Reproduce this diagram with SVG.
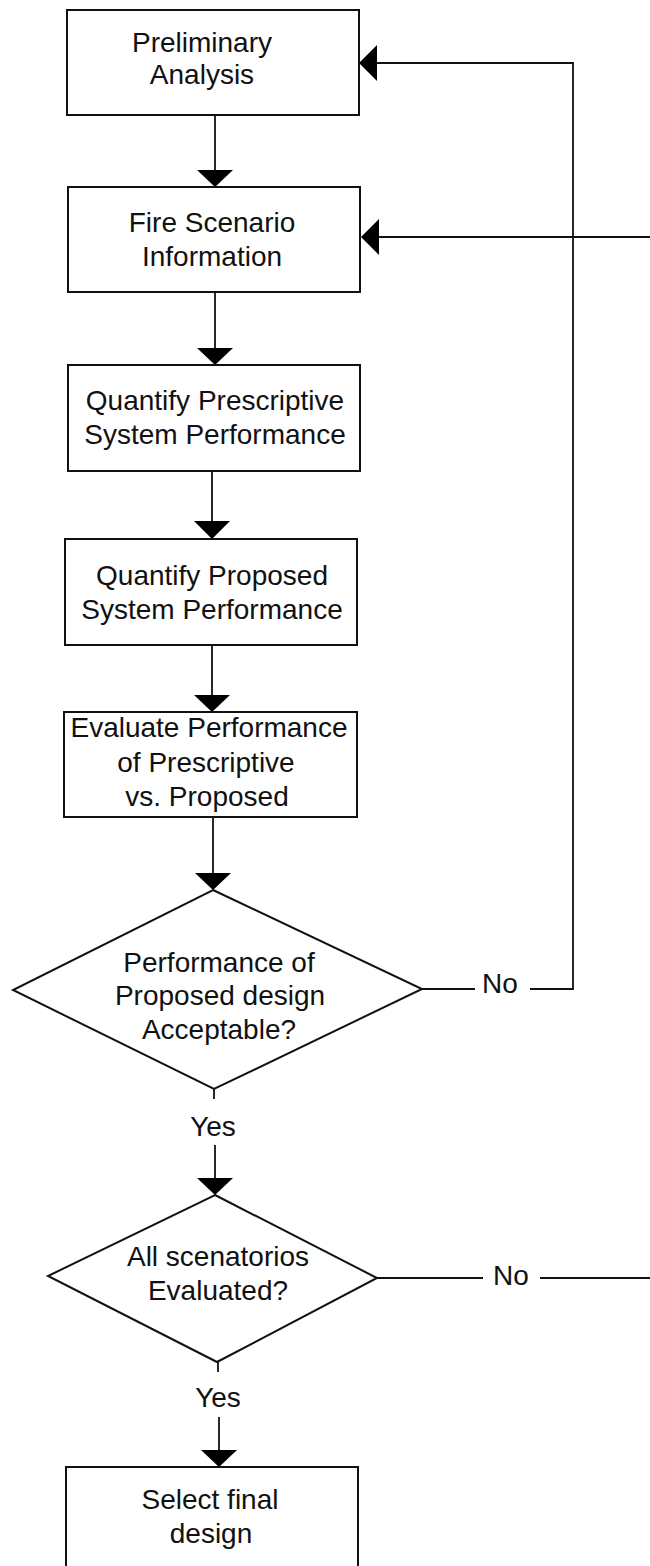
<svg xmlns="http://www.w3.org/2000/svg" width="650" height="1566" viewBox="0 0 650 1566">
<style>
.box{fill:#fff;stroke:#111;stroke-width:2}
.ln{fill:none;stroke:#111;stroke-width:1.8}
.hd{fill:#000;stroke:none}
text{font-family:"Liberation Sans",Arial,sans-serif;font-size:28px;fill:#111;text-anchor:middle}
</style>
<rect width="650" height="1566" fill="#fff"/>
<g id="connectors">
<line class="ln" x1="215" y1="115" x2="215" y2="172"/><polygon class="hd" points="197,170 233,170 215,187"/>
<line class="ln" x1="215" y1="292" x2="215" y2="350"/><polygon class="hd" points="197,348 233,348 215,365"/>
<line class="ln" x1="212" y1="471" x2="212" y2="523"/><polygon class="hd" points="194,521 230,521 212,539"/>
<line class="ln" x1="212" y1="645" x2="212" y2="697"/><polygon class="hd" points="194,695 230,695 212,712"/>
<line class="ln" x1="213" y1="817" x2="213" y2="875"/><polygon class="hd" points="195,873 231,873 213,890"/>
<line class="ln" x1="214" y1="1089" x2="214" y2="1099"/>
<text x="213" y="1136">Yes</text>
<line class="ln" x1="215" y1="1145" x2="215" y2="1180"/><polygon class="hd" points="197,1178 233,1178 215,1195"/>
<line class="ln" x1="218" y1="1362" x2="218" y2="1372"/>
<text x="218" y="1407">Yes</text>
<line class="ln" x1="219" y1="1417" x2="219" y2="1452"/><polygon class="hd" points="201,1450 237,1450 219,1467"/>
<line class="ln" x1="422" y1="989" x2="475" y2="989"/>
<text x="500" y="993">No</text>
<polyline class="ln" points="530,989 573,989 573,63 375,63"/>
<polygon class="hd" points="359,63 377,45 377,81"/>
<line class="ln" x1="377" y1="1278" x2="483" y2="1278"/>
<text x="511" y="1285">No</text>
<line class="ln" x1="540" y1="1278" x2="650" y2="1278"/>
<line class="ln" x1="650" y1="237" x2="377" y2="237"/>
<polygon class="hd" points="361,237 379,219 379,255"/>
</g>
<g id="n1"><rect class="box" x="67" y="10" width="292" height="105"/><text x="202" y="52">Preliminary</text><text x="202" y="84">Analysis</text></g>
<g id="n2"><rect class="box" x="68" y="187" width="292" height="105"/><text x="212" y="232">Fire Scenario</text><text x="212" y="266">Information</text></g>
<g id="n3"><rect class="box" x="68" y="365" width="292" height="106"/><text x="215" y="410">Quantify Prescriptive</text><text x="215" y="444">System Performance</text></g>
<g id="n4"><rect class="box" x="65" y="539" width="292" height="106"/><text x="212" y="585">Quantify Proposed</text><text x="212" y="619">System Performance</text></g>
<g id="n5"><rect class="box" x="64" y="712" width="293" height="105"/><text x="209" y="737">Evaluate Performance</text><text x="206" y="772">of Prescriptive</text><text x="207" y="806">vs. Proposed</text></g>
<g id="d1"><polygon class="box" points="213,890 422,989 214,1089 13,990"/><text x="219" y="972">Performance of</text><text x="220" y="1005">Proposed design</text><text x="219" y="1039">Acceptable?</text></g>
<g id="d2"><polygon class="box" points="215,1195 377,1278 217,1362 48,1276"/><text x="218" y="1266">All scenatorios</text><text x="218" y="1300">Evaluated?</text></g>
<g id="n6"><rect class="box" x="66" y="1467" width="292" height="110"/><text x="210" y="1509">Select final</text><text x="211" y="1543">design</text></g>
</svg>
